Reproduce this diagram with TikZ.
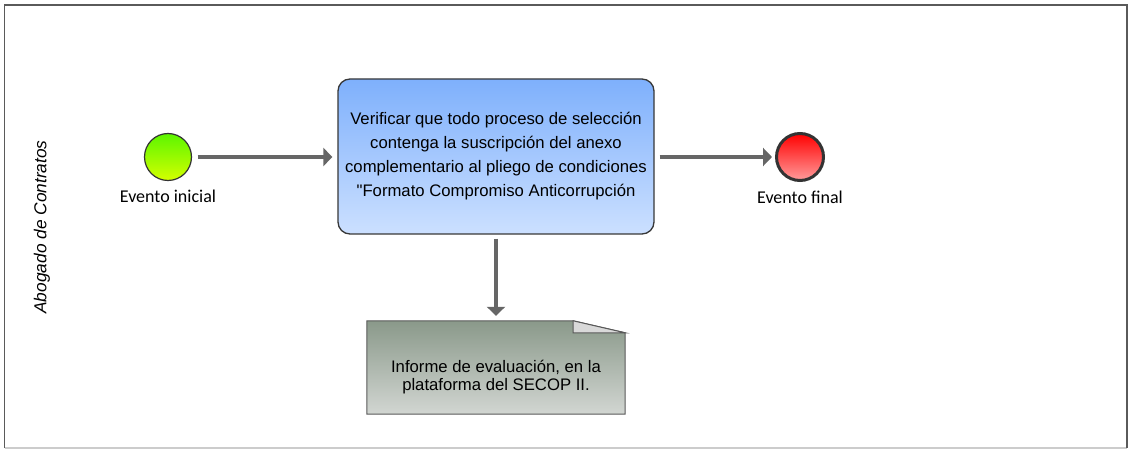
\documentclass[tikz,border=0pt]{standalone}
\usepackage{fontspec}
\setmainfont{Liberation Sans}
\newfontfamily\calfont{Carlito}
\usetikzlibrary{arrows.meta,shapes.geometric}
\definecolor{flowgray}{HTML}{666666}
\definecolor{framegray}{HTML}{5A5A5A}
\definecolor{framelight}{HTML}{CCCCCC}
\definecolor{tasktop}{HTML}{7EB0FC}
\definecolor{taskbot}{HTML}{CCE0FF}
\definecolor{datatop}{HTML}{8A998A}
\definecolor{databot}{HTML}{D2D6D2}
\definecolor{startop}{HTML}{5CF500}
\definecolor{startbot}{HTML}{D4FF00}
\definecolor{endtop}{HTML}{FF0000}
\definecolor{endbot}{HTML}{FF9C9C}
\tikzset{
  flow/.style={draw=flowgray, line width=4pt, -{Triangle[length=9pt,width=18pt]}},
  startev/.style={circle, minimum size=47pt, inner sep=0pt, draw=black!80, line width=1.2pt, top color=startop, bottom color=startbot},
  endev/.style={circle, minimum size=47pt, inner sep=0pt, draw=black!80, line width=3pt, top color=endtop, bottom color=endbot},
  evlabel/.style={font=\calfont\fontsize{18}{20}\selectfont, inner sep=0pt},
  taskbox/.style={rectangle, rounded corners=12pt, minimum width=316pt, minimum height=155pt, draw=black!78, line width=1.3pt, top color=tasktop, bottom color=taskbot, align=center, font=\fontsize{16.7}{24}\selectfont},
  txt/.style={align=center, font=\fontsize{16.7}{18.5}\selectfont, inner sep=0pt}
}
\begin{document}
\begin{tikzpicture}[x=1pt,y=-1pt]
\useasboundingbox (0,0) rectangle (1128,449);
% frame
\draw[framelight, line width=1.5pt] (4.5,448) -- (1127,448);
\draw[framegray, line width=1.5pt] (4.5,448) -- (4.5,5) -- (1127,5) -- (1127,448);
% lane label
\node[rotate=90, font=\itshape\fontsize{17.3}{18}\selectfont, inner sep=0pt] (lane) at (42,227) {Abogado de Contratos};
% nodes
\node[startev] (start) at (168,157) {};
\node[evlabel] (startlbl) at (168,196) {Evento inicial};
\node[taskbox] (task) at (496,156.5) {Verificar que todo proceso de selección\\contenga la suscripción del anexo\\complementario al pliego de condiciones\\\textquotedbl Formato Compromiso Anticorrupción};
\node[endev] (end) at (800,157) {};
\node[evlabel] (endlbl) at (800,197) {Evento final};
% data object
\node[minimum width=258pt, minimum height=93pt, inner sep=0pt] (data) at (496,367.5) {};
\path[top color=datatop, bottom color=databot, draw=black!65, line width=1pt]
  (data.south west) -- (data.north west) -- ([xshift=-52pt]data.north east) -- ([yshift=-12pt]data.north east) -- (data.south east) -- cycle;
\path[fill=black!15, draw=black!65, line width=1pt]
  ([xshift=-52pt]data.north east) -- ([xshift=-52pt,yshift=-12pt]data.north east) -- ([yshift=-12pt]data.north east) -- cycle;
\node[txt] (datatext) at (496,377) {Informe de evaluación, en la\\plataforma del SECOP II.};
% connectors
\draw[flow, shorten <=5.5pt, shorten >=5pt] (start.east) -- (task.west |- start.east);
\draw[flow, shorten <=5pt, shorten >=3pt] (task.east |- end.west) -- (end.west);
\draw[flow, shorten <=4pt, shorten >=5pt] (task.south) -- (data.north);
\end{tikzpicture}
\end{document}
